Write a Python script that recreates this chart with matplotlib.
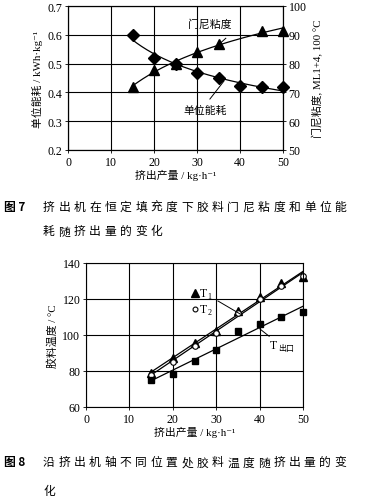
import numpy as np
import matplotlib
matplotlib.use("Agg")
import matplotlib.pyplot as plt

# ---------------- data ----------------
# Figure 7
x_energy = [15, 20, 25, 30, 35, 40, 45, 50]
energy = [0.599, 0.521, 0.499, 0.467, 0.451, 0.423, 0.418, 0.418]
x_mooney = [15, 20, 25, 30, 35, 45, 50]
mooney = [71.8, 77.8, 80.0, 84.1, 86.8, 91.4, 91.4]
top_xticks = [0, 10, 20, 30, 40, 50]
top_left_ticks = [0.2, 0.3, 0.4, 0.5, 0.6, 0.7]
top_right_ticks = [50, 60, 70, 80, 90, 100]

# Figure 8
x_temp = [15, 20, 25, 30, 35, 40, 45, 50]
t1 = [79.0, 87.0, 95.3, 102.2, 113.3, 121.0, 128.8, 132.4]
t2 = [78.0, 85.0, 94.0, 101.0, 112.0, 120.0, 127.0, 133.0]
t_out = [75.2, 78.3, 85.5, 91.5, 102.3, 106.3, 110.1, 113.0]
bot_xticks = [0, 10, 20, 30, 40, 50]
bot_yticks = [60, 80, 100, 120, 140]

cap7_head = "图 7"
cap7_line1 = "挤出机在恒定填充度下胶料门尼粘度和单位能"
cap7_line2 = "耗随挤出量的变化"
cap8_head = "图 8"
cap8_line1 = "沿挤出机轴不同位置处胶料温度随挤出量的变"
cap8_line2 = "化"

# ---------------- style ----------------
FAM = ["Liberation Serif", "Noto Sans CJK SC", "DejaVu Sans"]
CJK = ["Noto Sans CJK SC", "DejaVu Sans"]
plt.rcParams["font.family"] = FAM
TICK_FS = 8.6
LAB_FS = 7.8

W, H = 367, 502
fig = plt.figure(figsize=(W / 100, H / 100), dpi=100)


def px_axes(l, r, t, b):
    return fig.add_axes([l / W, 1 - b / H, (r - l) / W, (b - t) / H])


def style_axes(ax):
    for s in ax.spines.values():
        s.set_linewidth(0.8)
        s.set_color("black")
    ax.tick_params(length=2, width=0.6, labelsize=TICK_FS, pad=2, direction="out")
    ax.grid(True, color="black", linewidth=0.8)
    ax.set_axisbelow(True)


# ---------------- Figure 7 ----------------
ax1 = px_axes(68, 283, 7, 151)
ax2 = ax1.twinx()
ax1.set_zorder(ax2.get_zorder() + 1)
ax1.patch.set_visible(False)
style_axes(ax1)
ax2.tick_params(length=2, width=0.6, labelsize=TICK_FS, pad=2)
ax1.set_xlim(0, 50)
ax1.set_ylim(0.2, 0.7)
ax2.set_ylim(50, 100)
ax1.set_xticks(top_xticks)
ax1.set_yticks(top_left_ticks)
ax1.set_yticklabels([f"{v:.1f}" for v in top_left_ticks])
ax2.set_yticks(top_right_ticks)

xs = np.linspace(15, 50, 200)
# power trend for energy
pe = np.polyfit(np.log(x_energy), np.log(energy), 1)
ax1.plot(xs, np.exp(pe[1]) * xs ** pe[0], color="black", lw=0.9)
# log trend for Mooney
pm = np.polyfit(np.log(x_mooney), mooney, 1)
ax2.plot(xs, pm[1] + pm[0] * np.log(xs), color="black", lw=0.9)
ax2.plot(x_mooney, mooney, "^", color="black", ms=6.5, clip_on=False)
ax1.plot(x_energy, energy, "D", color="black", ms=5.8, clip_on=False)

ax1.set_xlabel("挤出产量 / kg·h⁻¹", fontsize=LAB_FS, labelpad=1)
ax1.set_ylabel("单位能耗 / kWh·kg⁻¹", fontsize=LAB_FS, labelpad=3)
ax2.set_ylabel("门尼粘度, ML1+4, 100 °C", fontsize=LAB_FS, labelpad=4)

ax2.text(33, 93.8, "门尼粘度", fontsize=LAB_FS, ha="center", va="center", family=CJK)
ax2.plot([36.7, 34.6], [88.8, 86.0], color="black", lw=0.7)
ax1.text(32, 0.339, "单位能耗", fontsize=LAB_FS, ha="center", va="center", family=CJK)
ax1.plot([33.0, 36.3], [0.377, 0.44], color="black", lw=0.7)

# ---------------- Figure 8 ----------------
ax3 = px_axes(86, 303, 264, 408)
style_axes(ax3)
ax3.set_xlim(0, 50)
ax3.set_ylim(60, 140)
ax3.set_xticks(bot_xticks)
ax3.set_yticks(bot_yticks)

xl = np.array([15, 50])
for ys in (t1, t2, t_out):
    p = np.polyfit(x_temp, ys, 1)
    ax3.plot(xl, np.polyval(p, xl), color="black", lw=0.9)
ax3.plot(x_temp, t1, "^", color="black", ms=5.8, clip_on=False)
ax3.plot(x_temp, t2, "o", mfc="white", mec="black", mew=0.8, ms=4, clip_on=False)
ax3.plot(x_temp, t_out, "s", color="black", ms=4.8, clip_on=False)

ax3.set_xlabel("挤出产量 / kg·h⁻¹", fontsize=LAB_FS, labelpad=1)
ax3.set_ylabel("胶料温度 / °C", fontsize=LAB_FS, labelpad=3)

# in-plot labels
ax3.plot([25.0], [123.3], "^", color="black", ms=5.2)
ax3.text(26.3, 123.3, "T", fontsize=8.5, va="center", ha="left")
ax3.text(28.0, 121.6, "1", fontsize=5.8, va="center", ha="left")
ax3.plot([25.0], [114.4], "o", mfc="white", mec="black", mew=0.8, ms=3.5)
ax3.text(26.3, 114.4, "T", fontsize=8.5, va="center", ha="left")
ax3.text(28.0, 112.7, "2", fontsize=5.8, va="center", ha="left")
ax3.plot([30.4, 35.5], [118.9, 111.7], color="black", lw=0.7)

ax3.text(42.4, 94.6, "T", fontsize=8.5, va="center", ha="left")
ax3.text(44.2, 93.2, "出口", fontsize=5.8, va="center", ha="left", family=CJK)
ax3.plot([40.0, 42.2], [103.5, 99.3], color="black", lw=0.7)


# ---------------- captions ----------------
def spaced(text, x0, y, pitch, fs=8.5, weight="normal"):
    for i, ch in enumerate(text):
        fig.text((x0 + i * pitch) / W, 1 - y / H, ch, fontsize=fs, ha="left",
                 va="center", family=CJK, weight=weight)


fig.text(4 / W, 1 - 207 / H, cap7_head, fontsize=8.5, weight="bold", va="center",
         ha="left", family=CJK)
spaced(cap7_line1, 43, 207, 15.35)
spaced(cap7_line2, 43, 232, 15.35)
fig.text(4 / W, 1 - 463 / H, cap8_head, fontsize=8.5, weight="bold", va="center",
         ha="left", family=CJK)
spaced(cap8_line1, 43, 463, 15.35)
spaced(cap8_line2, 43, 492, 15.35)

fig.savefig("out.png", dpi=100)
